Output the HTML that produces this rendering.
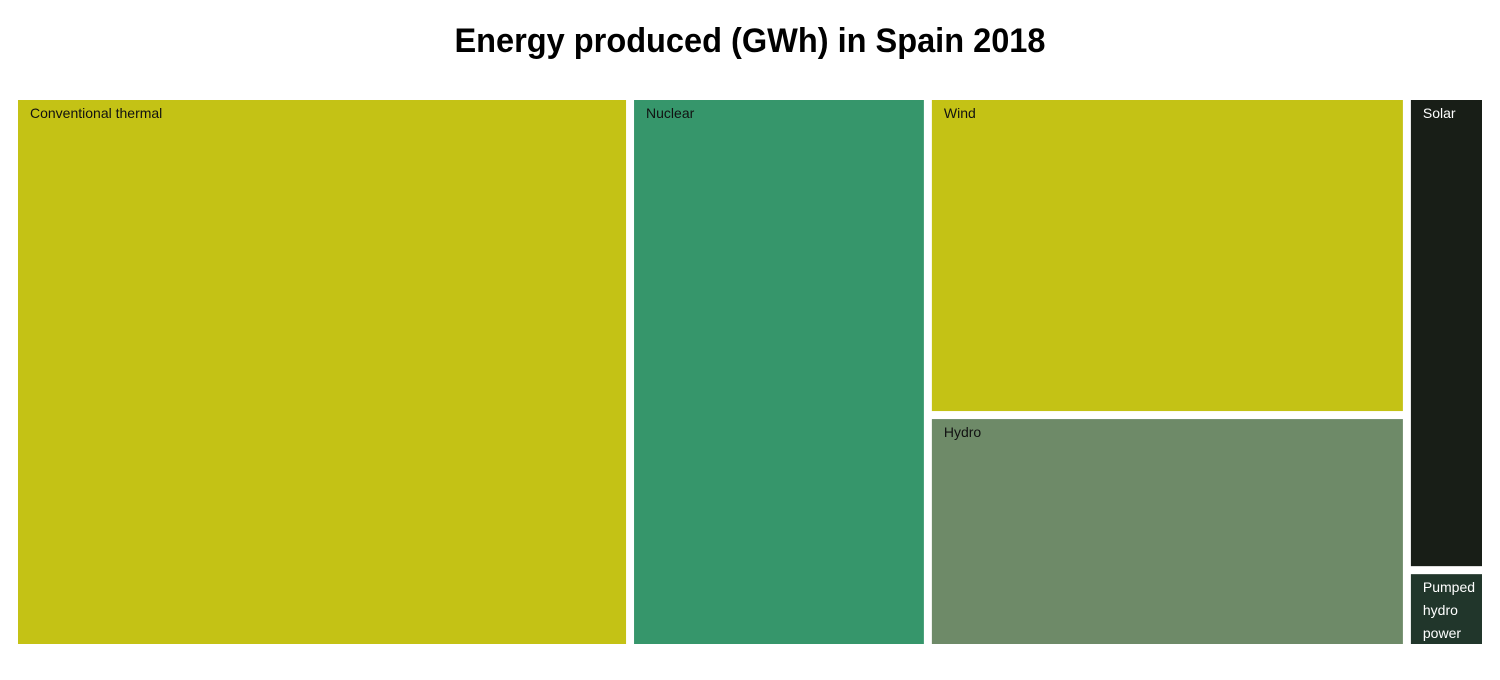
<!DOCTYPE html>
<html><head><meta charset="utf-8"><style>
html,body{margin:0;padding:0;background:#fff;width:1500px;height:680px;overflow:hidden}
svg text{font-family:"Liberation Sans",sans-serif}
</style></head><body>
<svg id="chart" width="1500" height="680" xmlns="http://www.w3.org/2000/svg">
<text x="750" y="52" text-anchor="middle" font-size="34" font-weight="bold" fill="#000" transform="translate(750,0) scale(0.957,1) translate(-750,0)">Energy produced (GWh) in Spain 2018</text>
<g id="cells"></g>
</svg>
<script>
const labels = ["Conventional thermal","Nuclear","Wind","Hydro","Solar","Pumped hydro power"];
const values = [108800, 52600, 48900, 35700, 12000, 1970];
const colors = ["#c4c215","#36966b","#c4c215","#6e8a68","#181e17","#21362b"];
const textColors = ["#111","#111","#111","#111","#fff","#fff"];
const groups = [[0],[1],[2,3],[4,5]];
const X0=14, Y0=96, W=1472, H=552, PAD=4;
const g=document.getElementById('cells');
const NS="http://www.w3.org/2000/svg";
const total=values.reduce((a,b)=>a+b,0);
let x=X0;
groups.forEach(grp=>{
  const gs=grp.reduce((a,i)=>a+values[i],0);
  const cw=W*gs/total;
  let y=Y0;
  grp.forEach(i=>{
    const ch=H*values[i]/gs;
    const r=document.createElementNS(NS,'rect');
    
    
    r.setAttribute('x',x+PAD);r.setAttribute('y',y+PAD);
    r.setAttribute('width',Math.max(0,cw-2*PAD));r.setAttribute('height',Math.max(0,ch-2*PAD));
    r.setAttribute('fill',colors[i]);
    g.appendChild(r);
    const words = (cw<120 && labels[i].includes(' ')) ? labels[i].split(' ') : [labels[i]];
    words.forEach((w,k)=>{
      const t=document.createElementNS(NS,'text');
      
      
      t.setAttribute('x',x+PAD+12);t.setAttribute('y',y+PAD+18+k*23);
      t.setAttribute('font-size','14');t.setAttribute('fill',textColors[i]);
      t.textContent=w;
      g.appendChild(t);
    });
    y+=ch;
  });
  x+=cw;
});
</script>
</body></html>
